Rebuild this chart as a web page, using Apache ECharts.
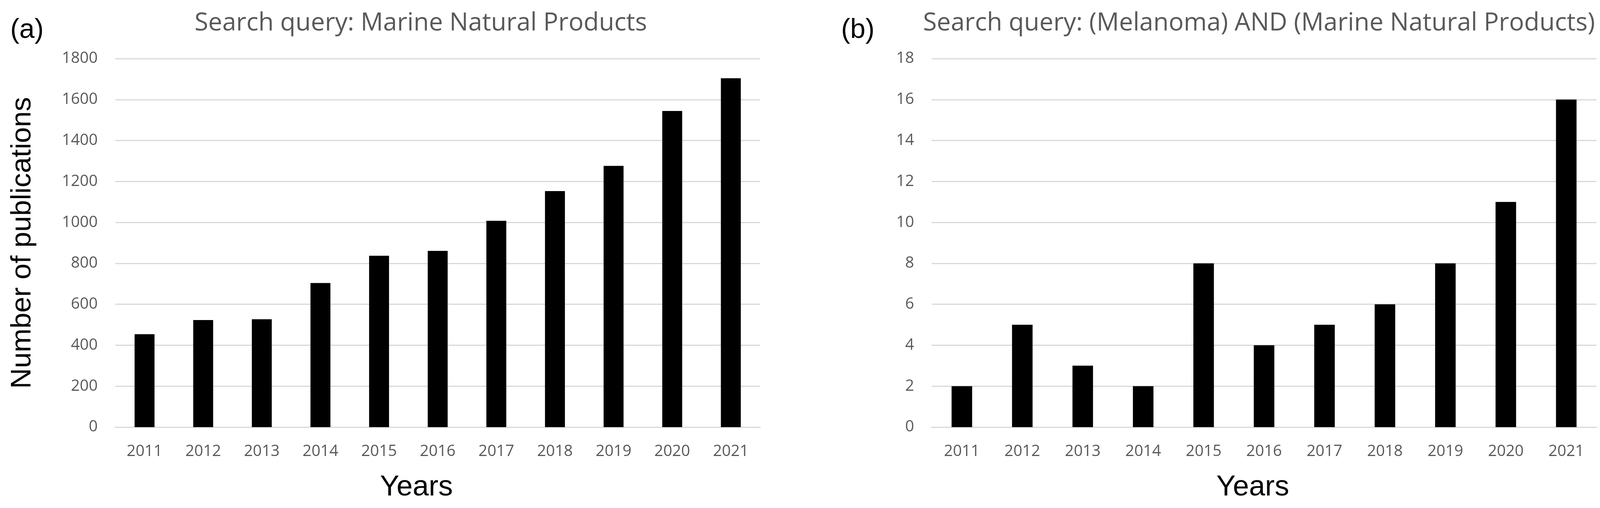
<!DOCTYPE html>
<html>
<head>
<meta charset="utf-8">
<script src="https://cdn.jsdelivr.net/npm/echarts@6/dist/echarts.min.js"></script>
<style>
html,body{margin:0;padding:0;background:#fff;}
#chart{width:4114px;height:1300px;}
</style>
</head>
<body>
<div id="chart"></div>
<script>
const years = ['2011','2012','2013','2014','2015','2016','2017','2018','2019','2020','2021'];
const marineNaturalProducts = [454, 523, 527, 704, 837, 861, 1008, 1153, 1276, 1544, 1704];
const melanomaMarine = [2, 5, 3, 2, 8, 4, 5, 6, 8, 11, 16];
const titleA = 'Search query: Marine Natural Products';
const titleB = 'Search query: (Melanoma) AND (Marine Natural Products)';
const yNameA = 'Number of publications';
const xName = 'Years';

const gridColor = '#d9d9d9';
const tickColor = '#595959';
const tickFont = '"Open Sans", "Noto Sans", sans-serif';
const arialFont = '"Liberation Sans", Arial, sans-serif';

function xAxisFor(gridIndex) {
  return {
    type: 'category', gridIndex: gridIndex, data: years,
    axisTick: {show: false},
    axisLine: {show: true, lineStyle: {color: gridColor, width: 3}},
    axisLabel: {color: tickColor, fontFamily: tickFont, fontSize: 40, margin: 43}
  };
}
function yAxisFor(gridIndex, max, interval, name) {
  const ax = {
    type: 'value', gridIndex: gridIndex, min: 0, max: max, interval: interval,
    axisLine: {show: false}, axisTick: {show: false},
    axisLabel: {color: tickColor, fontFamily: tickFont, fontSize: 40, margin: 45,
                formatter: function (v) { return String(v); }},
    splitLine: {show: true, lineStyle: {color: gridColor, width: 3}}
  };
  if (name) {
    ax.name = name;
    ax.nameLocation = 'middle';
    ax.nameRotate = 90;
    ax.nameGap = 201;
    ax.nameTextStyle = {color: '#000', fontFamily: arialFont, fontSize: 73};
  }
  return ax;
}

const chart = echarts.init(document.getElementById('chart'), null, {renderer: 'canvas'});
chart.setOption({
  backgroundColor: '#fff',
  animation: false,
  title: [
    {text: titleA, left: 493, top: 23, padding: 5,
     textStyle: {color: tickColor, fontFamily: tickFont, fontSize: 64, fontWeight: 'normal'}},
    {text: titleB, left: 2358, top: 23, padding: 5,
     textStyle: {color: tickColor, fontFamily: tickFont, fontSize: 64, fontWeight: 'normal'}}
  ],
  grid: [
    {left: 295, top: 150, width: 1651, height: 943, containLabel: false},
    {left: 2385, top: 150, width: 1702, height: 943, containLabel: false}
  ],
  xAxis: [xAxisFor(0), xAxisFor(1)],
  yAxis: [yAxisFor(0, 1800, 200, yNameA), yAxisFor(1, 18, 2, null)],
  series: [
    {type: 'bar', name: titleA, xAxisIndex: 0, yAxisIndex: 0, data: marineNaturalProducts,
     itemStyle: {color: '#000'}, barCategoryGap: '66%'},
    {type: 'bar', name: titleB, xAxisIndex: 1, yAxisIndex: 1, data: melanomaMarine,
     itemStyle: {color: '#000'}, barCategoryGap: '66%'}
  ],
  graphic: [
    {type: 'text', x: 69, y: 78, style: {text: '(a)', fill: '#000', font: '70px ' + arialFont, align: 'center', verticalAlign: 'middle'}},
    {type: 'text', x: 2196, y: 78, style: {text: '(b)', fill: '#000', font: '70px ' + arialFont, align: 'center', verticalAlign: 'middle'}},
    {type: 'text', x: 1066, y: 1248, style: {text: xName, fill: '#000', font: '74px ' + arialFont, align: 'center', verticalAlign: 'middle'}},
    {type: 'text', x: 3207, y: 1248, style: {text: xName, fill: '#000', font: '74px ' + arialFont, align: 'center', verticalAlign: 'middle'}}
  ]
});
</script>
</body>
</html>
